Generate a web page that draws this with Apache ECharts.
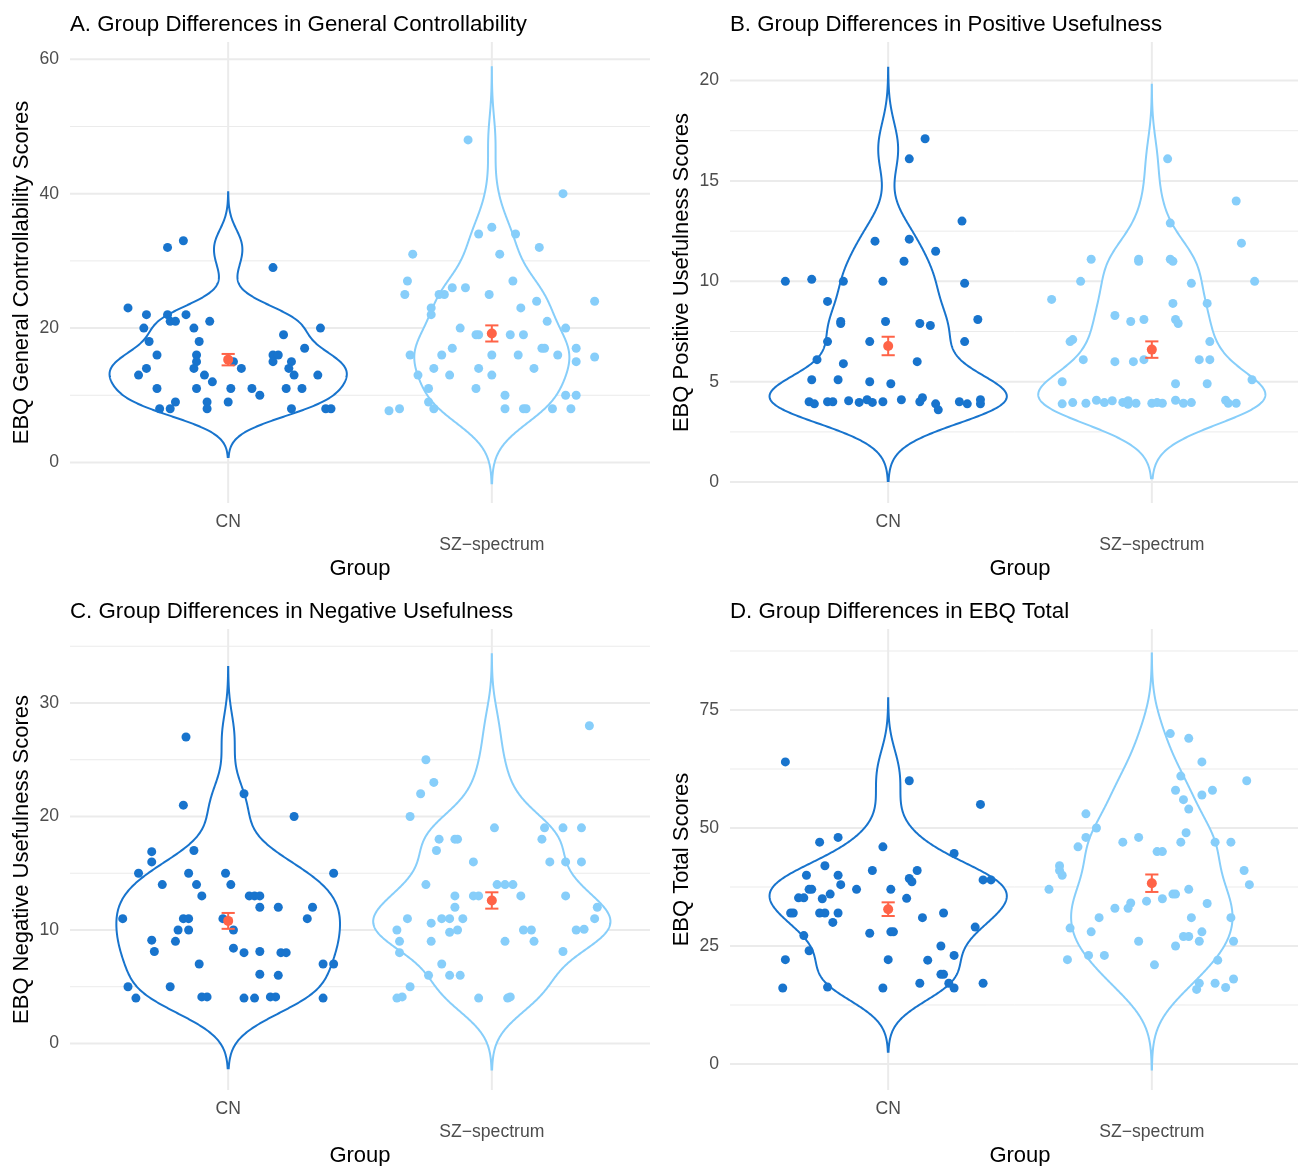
<!DOCTYPE html>
<html>
<head>
<meta charset="utf-8">
<title>EBQ group differences</title>
<script src="https://cdn.jsdelivr.net/npm/echarts@6/dist/echarts.min.js"></script>
<style>
  html, body { margin: 0; padding: 0; background: #fff; }
  #main { width: 1298px; height: 1166px; }
</style>
</head>
<body>
<div id="main"></div>
<script>
const groups = ['CN', 'SZ−spectrum'];
const groupColors = ['#1874CD', '#87CEFA'];
const meanColor = '#FF6347';

const titles = [
  'A. Group Differences in General Controllability',
  'B. Group Differences in Positive Usefulness',
  'C. Group Differences in Negative Usefulness',
  'D. Group Differences in EBQ Total'
];
const yNames = [
  'EBQ General Controllability Scores',
  'EBQ Positive Usefulness Scores',
  'EBQ Negative Usefulness Scores',
  'EBQ Total Scores'
];

// tick labels
const ctrlTicks = [0, 20, 40, 60];
const posTicks = [0, 5, 10, 15, 20];
const negTicks = [0, 10, 20, 30];
const totTicks = [0, 25, 50, 75];

// points: [horizontal jitter, score]
const ctrlCN = [[-0.23,32],[-0.17,33],[0.17,29],[-0.38,23],[-0.31,22],[-0.23,22],[-0.22,21],[-0.20,21],[-0.16,22],[-0.07,21],[-0.32,20],[-0.13,20],[0.35,20],[-0.30,18],[-0.11,18],[0.21,19],[0.29,17],[-0.27,16],[-0.12,16],[-0.12,15],[-0.13,14],[0.02,15],[0.17,16],[0.19,16],[0.17,15],[0.24,15],[-0.31,14],[0.05,14],[0.23,14],[-0.34,13],[-0.09,13],[0.25,13],[0.34,13],[-0.06,12],[-0.27,11],[-0.12,11],[0.01,11],[0.09,11],[0.22,11],[0.28,11],[0.12,10],[-0.20,9],[-0.08,9],[0.00,9],[-0.26,8],[-0.22,8],[-0.08,8],[0.24,8],[0.37,8],[0.39,8]];
const ctrlSZ = [[-0.09,48],[0.27,40],[-0.05,34],[0.00,35],[0.09,34],[-0.30,31],[0.03,31],[0.18,32],[-0.32,27],[-0.33,25],[-0.20,25],[-0.18,25],[-0.15,26],[-0.10,26],[-0.01,25],[0.08,27],[-0.23,23],[-0.23,22],[0.11,23],[0.17,24],[0.39,24],[0.21,21],[0.28,20],[-0.12,20],[-0.06,19],[-0.05,19],[0.07,19],[0.12,19],[-0.31,16],[-0.19,16],[-0.15,17],[0.00,16],[0.10,16],[0.19,17],[0.20,17],[0.25,16],[0.32,17],[0.32,15],[0.39,15.7],[-0.22,14],[-0.05,14],[0.16,14],[-0.28,13],[-0.16,13],[0.00,13],[-0.24,11],[-0.06,11],[-0.24,9],[0.05,10],[0.28,10],[0.32,10],[-0.22,8],[-0.35,8],[-0.39,7.7],[0.05,8],[0.12,8],[0.13,8],[0.23,8],[0.30,8]];

const posCN = [[0.14,17.1],[0.08,16.1],[0.28,13],[-0.05,12],[0.08,12.1],[0.18,11.5],[0.06,11],[-0.39,10],[-0.29,10.1],[-0.17,10],[-0.02,10],[0.29,9.9],[-0.23,9],[-0.18,8],[-0.18,7.9],[-0.01,8],[0.12,7.9],[0.16,7.8],[0.34,8.1],[-0.23,7],[-0.07,7],[0.29,7],[-0.27,6.1],[-0.17,5.9],[0.11,6],[-0.29,5.1],[-0.19,5.1],[-0.07,5],[0.01,4.9],[-0.30,4],[-0.28,3.9],[-0.23,4],[-0.21,4],[-0.15,4.05],[-0.11,3.97],[-0.08,4.1],[-0.06,3.97],[-0.02,4],[0.05,4.1],[0.12,4],[0.13,4.2],[0.18,3.9],[0.19,3.6],[0.27,4],[0.30,3.9],[0.35,4.1],[0.35,3.9]];
const posSZ = [[0.06,16.1],[0.32,14],[0.07,12.9],[0.34,11.9],[-0.23,11.1],[-0.05,11.1],[-0.05,11],[0.07,11.1],[0.08,11],[-0.27,10],[0.15,9.9],[0.39,10],[-0.38,9.1],[0.08,8.9],[0.21,8.9],[-0.14,8.3],[-0.08,8],[-0.03,8.1],[0.09,8.1],[0.10,7.9],[-0.31,7],[-0.30,7.1],[0.22,7],[-0.26,6.1],[-0.14,6],[-0.07,6],[-0.03,6.1],[0.18,6.1],[0.22,6.1],[-0.34,5],[0.09,4.9],[0.21,4.9],[0.38,5.1],[-0.34,3.9],[-0.30,3.96],[-0.25,3.93],[-0.21,4.08],[-0.18,3.96],[-0.15,4.05],[-0.11,3.97],[-0.09,4.05],[-0.09,3.88],[-0.06,3.93],[0.00,3.93],[0.02,3.96],[0.04,3.93],[0.09,4.08],[0.12,3.93],[0.15,3.96],[0.28,4.08],[0.29,3.93],[0.32,3.93]];

const negCN = [[-0.16,27],[0.06,22],[-0.17,21],[0.25,20],[-0.29,16.9],[-0.13,17],[-0.29,16],[-0.34,15],[-0.15,15],[-0.01,15],[0.40,15],[-0.25,14],[-0.12,14],[0.01,14],[-0.10,13],[0.08,13],[0.10,13],[0.12,13],[0.12,12],[0.19,12],[0.32,12],[-0.40,11],[-0.17,11],[-0.15,11],[-0.02,11],[0.30,11],[-0.19,10],[-0.15,10],[0.02,10],[-0.29,9.1],[-0.20,9],[-0.28,8.1],[0.02,8.4],[0.06,8],[0.12,8.1],[0.20,8],[0.22,8],[-0.11,7],[0.36,7],[0.40,7],[0.12,6.1],[0.19,6],[-0.38,5],[-0.22,5],[-0.35,4],[-0.10,4.1],[-0.08,4.1],[0.06,4],[0.10,4],[0.16,4.1],[0.18,4.1],[0.36,4]];
const negSZ = [[0.37,28],[-0.25,25],[-0.22,23],[-0.27,22],[-0.31,20],[0.01,19],[0.20,19],[0.27,19],[0.34,19],[-0.20,18],[-0.14,18],[-0.13,18],[0.19,18],[-0.21,17],[-0.07,16],[0.22,16],[0.28,16],[0.34,16],[-0.25,14],[0.02,14],[0.05,14],[0.08,14],[-0.14,13],[-0.07,13],[-0.05,13],[0.11,13],[0.28,13],[-0.14,12],[0.40,12],[-0.32,11],[-0.19,11],[-0.16,11],[-0.11,11],[-0.23,10.6],[0.39,11],[-0.36,10],[-0.16,9.8],[-0.13,10],[0.12,10],[0.15,10],[0.32,10],[0.35,10.06],[-0.35,9],[-0.23,9],[0.05,9],[0.16,9],[-0.35,8],[0.27,8.1],[-0.19,7],[-0.24,6],[-0.16,6],[-0.12,6],[-0.31,5],[-0.36,4],[-0.34,4.1],[-0.05,4],[0.06,4],[0.07,4.1]];

const totCN = [[-0.39,64],[0.08,60],[0.35,55],[-0.26,47],[-0.19,48],[-0.02,46],[0.25,44.6],[-0.24,42],[-0.06,41],[0.11,41],[-0.31,40],[-0.19,40],[0.08,39.3],[0.09,38.6],[0.36,39],[0.39,39],[-0.18,38],[-0.30,37],[-0.29,37],[-0.12,37],[0.01,37],[-0.34,35.2],[-0.32,35.2],[-0.25,35],[-0.22,36],[0.07,35.1],[-0.37,32],[-0.36,32],[-0.26,32],[-0.24,32],[-0.19,32],[-0.21,30],[0.13,31],[0.21,32],[0.33,29],[-0.32,27.2],[-0.07,27.7],[0.01,28],[0.02,28],[-0.30,24],[0.20,25],[-0.39,22.1],[0.00,22.1],[0.15,22],[0.25,23],[0.20,19],[0.21,19],[-0.40,16.1],[-0.23,16.3],[-0.02,16.1],[0.12,17.1],[0.23,17.1],[0.25,16.1],[0.36,17.1]];
const totSZ = [[0.07,70],[0.14,69],[0.19,64],[0.36,60],[0.11,61],[0.09,58],[0.23,58],[0.12,56],[0.19,57],[0.14,54],[-0.25,53],[-0.21,50],[-0.25,48],[-0.11,47],[-0.05,48],[0.13,49],[0.11,47],[0.24,47],[0.30,47],[-0.28,46],[0.02,45],[0.04,45],[-0.35,42],[-0.35,41],[-0.34,40],[-0.39,37],[0.35,41],[0.37,38],[0.14,37],[0.08,36],[0.09,36],[0.04,35],[-0.02,34.5],[-0.08,34.1],[-0.09,33],[-0.14,33],[0.21,34],[-0.20,31],[0.15,31],[0.30,31],[-0.31,28.8],[-0.23,28],[0.12,27],[0.14,27],[0.19,28],[0.18,26],[-0.05,26],[0.09,25],[0.31,26],[-0.32,22.1],[-0.24,23],[-0.18,23],[0.01,21],[0.25,22],[0.18,17.1],[0.17,15.8],[0.24,17.1],[0.31,18],[0.28,16.2]];

// group mean and standard error [CN, SZ-spectrum]
const ctrlMean = [15.3, 19.2], ctrlSE = [0.85, 1.2];
const posMean = [6.78, 6.6], posSE = [0.46, 0.41];
const negMean = [10.8, 12.6], negSE = [0.7, 0.72];
const totMean = [32.8, 38.3], totSE = [1.45, 1.85];

const ctrlBw = [2.4, 3.6];
const posBw = [1.18, 1.23];
const negBw = [2.06, 2.1];
const totBw = [4.5, 5.65];

const panels = [
  { cn: ctrlCN, sz: ctrlSZ, mean: ctrlMean, se: ctrlSE, bw: ctrlBw, ticks: ctrlTicks, yMin: -6.03, yMax: 62.57, left: 70, top: 42 },
  { cn: posCN, sz: posSZ, mean: posMean, se: posSE, bw: posBw, ticks: posTicks, yMin: -1.04, yMax: 21.92, left: 730, top: 42 },
  { cn: negCN, sz: negSZ, mean: negMean, se: negSE, bw: negBw, ticks: negTicks, yMin: -4.1, yMax: 36.52, left: 70, top: 629 },
  { cn: totCN, sz: totSZ, mean: totMean, se: totSE, bw: totBw, ticks: totTicks, yMin: -5.51, yMax: 92.16, left: 730, top: 629 }
];
const plotW = 580, plotH = 461;
const xMin = 0.4, xMax = 2.6;
const fontFamily = '"Liberation Sans", Arial, Helvetica, sans-serif';

// untrimmed gaussian kde, like geom_violin(trim = FALSE)
function kde(v, bw) {
  const from = Math.min(...v) - 3 * bw, to = Math.max(...v) + 3 * bw;
  const N = 512, out = [];
  const k = 1 / (v.length * bw * Math.sqrt(2 * Math.PI));
  for (let i = 0; i < N; i++) {
    const y = from + (to - from) * i / (N - 1);
    let d = 0;
    for (const x of v) { const z = (y - x) / bw; d += Math.exp(-0.5 * z * z); }
    out.push([y, d * k]);
  }
  return out;
}

// scale = "area": widest violin in the panel gets width 0.9
function violinPolys(sets, bws) {
  const dens = sets.map((s, i) => kde(s.map(p => p[1]), bws[i]));
  const maxD = Math.max(...dens.map(d => Math.max(...d.map(p => p[1]))));
  return dens.map((d, gi) => {
    const c = gi + 1;
    const right = d.map(p => [c + 0.45 * p[1] / maxD, p[0]]);
    const left = d.slice().reverse().map(p => [c - 0.45 * p[1] / maxD, p[0]]);
    return right.concat(left);
  });
}

const option = {
  animation: false,
  backgroundColor: '#fff',
  textStyle: { fontFamily: fontFamily },
  title: [],
  grid: [],
  xAxis: [],
  yAxis: [],
  series: []
};

panels.forEach((p, pi) => {
  option.title.push({
    text: titles[pi], left: p.left, top: p.top - 28, padding: 0,
    textStyle: { fontSize: 22.3, fontWeight: 'normal', color: '#000', fontFamily: fontFamily }
  });
  option.grid.push({ left: p.left, top: p.top, width: plotW, height: plotH, outerBoundsMode: 'none', containLabel: false });
  option.xAxis.push({
    gridIndex: pi, type: 'value', min: xMin, max: xMax,
    name: 'Group', nameLocation: 'middle', nameGap: 52,
    nameTextStyle: { fontSize: 22, color: '#000' },
    axisLine: { show: false }, axisTick: { show: false }, splitLine: { show: false },
    axisLabel: {
      customValues: [1, 2], color: '#4D4D4D', fontSize: 17.6, margin: 8, lineHeight: 23,
      formatter: v => v === 1 ? groups[0] : '\n' + groups[1]
    }
  });
  option.yAxis.push({
    gridIndex: pi, type: 'value', min: p.yMin, max: p.yMax,
    name: yNames[pi], nameLocation: 'middle', nameGap: 37, nameRotate: 90,
    nameTextStyle: { fontSize: 22, color: '#000' },
    axisLine: { show: false }, axisTick: { show: false }, splitLine: { show: false },
    axisLabel: { customValues: p.ticks, color: '#4D4D4D', fontSize: 17.6, margin: 11 }
  });

  // grid lines
  const step = p.ticks[1] - p.ticks[0];
  const minor = [p.ticks[0] - step / 2].concat(p.ticks.map(t => t + step / 2)).filter(v => v > p.yMin && v < p.yMax);
  const lines = p.ticks.map(t => [xMin, t, xMax, t, 2])
    .concat(minor.map(t => [xMin, t, xMax, t, 1]))
    .concat([1, 2].map(c => [c, p.yMin, c, p.yMax, 2]));
  option.series.push({
    type: 'custom', xAxisIndex: pi, yAxisIndex: pi, z: 1, silent: true,
    data: lines,
    renderItem: (params, api) => {
      const a = api.coord([api.value(0), api.value(1)]);
      const b = api.coord([api.value(2), api.value(3)]);
      return { type: 'line', shape: { x1: a[0], y1: a[1], x2: b[0], y2: b[1] }, style: { stroke: '#EBEBEB', lineWidth: api.value(4) } };
    }
  });

  // violins
  const polys = violinPolys([p.cn, p.sz], p.bw);
  option.series.push({
    type: 'custom', xAxisIndex: pi, yAxisIndex: pi, z: 2, silent: true,
    data: groups.map((g, gi) => [gi + 1, 0]),
    renderItem: (params, api) => {
      const gi = params.dataIndex;
      return {
        type: 'polygon',
        shape: { points: polys[gi].map(pt => api.coord(pt)) },
        style: { fill: '#fff', stroke: groupColors[gi], lineWidth: 2 }
      };
    }
  });

  // jittered points
  [p.cn, p.sz].forEach((set, gi) => {
    option.series.push({
      type: 'scatter', xAxisIndex: pi, yAxisIndex: pi, z: 3, silent: true,
      symbolSize: 9, itemStyle: { color: groupColors[gi], opacity: 1 },
      data: set.map(pt => [gi + 1 + pt[0], pt[1]])
    });
  });

  // mean +/- se
  option.series.push({
    type: 'custom', xAxisIndex: pi, yAxisIndex: pi, z: 4, silent: true,
    data: groups.map((g, gi) => [gi + 1, p.mean[gi], p.se[gi]]),
    renderItem: (params, api) => {
      const x = api.value(0), m = api.value(1), s = api.value(2);
      const t = api.coord([x, m + s]), b = api.coord([x, m - s]);
      const tl = api.coord([x - 0.025, m + s]), tr = api.coord([x + 0.025, m + s]);
      const bl = api.coord([x - 0.025, m - s]), br = api.coord([x + 0.025, m - s]);
      const st = { stroke: meanColor, lineWidth: 2 };
      return {
        type: 'group', children: [
          { type: 'line', shape: { x1: t[0], y1: t[1], x2: b[0], y2: b[1] }, style: st },
          { type: 'line', shape: { x1: tl[0], y1: tl[1], x2: tr[0], y2: tr[1] }, style: st },
          { type: 'line', shape: { x1: bl[0], y1: bl[1], x2: br[0], y2: br[1] }, style: st }
        ]
      };
    }
  });
  option.series.push({
    type: 'scatter', xAxisIndex: pi, yAxisIndex: pi, z: 5, silent: true,
    symbolSize: 10, itemStyle: { color: meanColor, opacity: 1 },
    data: groups.map((g, gi) => [gi + 1, p.mean[gi]])
  });
});

const chart = echarts.init(document.getElementById('main'), null, { renderer: 'canvas' });
chart.setOption(option);
</script>
</body>
</html>
